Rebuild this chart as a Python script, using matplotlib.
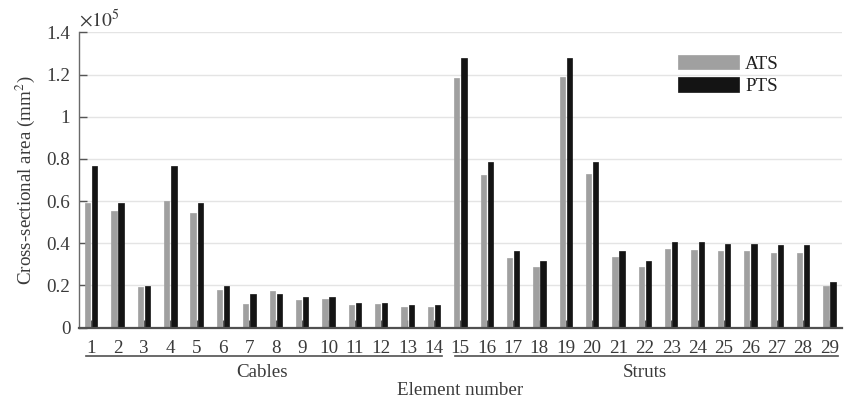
import matplotlib
matplotlib.use("Agg")
import matplotlib.pyplot as plt
from matplotlib.ticker import FuncFormatter
import numpy as np

plt.rcParams["font.family"] = ["Liberation Serif", "DejaVu Serif"]
plt.rcParams["mathtext.fontset"] = "stix"

# Cross-sectional areas (mm^2) for each element
elements = list(range(1, 30))
ats = [59000, 55300, 19150, 60000, 54200, 17900, 11100, 17400, 13100, 13600,
       10800, 11200, 9800, 9800,
       118400, 72400, 33000, 28800, 118800, 72900, 33500, 28800, 37300, 36800,
       36400, 36400, 35600, 35600, 19800]
pts = [76800, 59300, 19900, 76800, 59300, 19900, 16000, 16000, 14400, 14400,
       11800, 11800, 10900, 10900,
       127700, 78400, 36200, 31800, 127700, 78400, 36200, 31800, 40500, 40500,
       39800, 39800, 39000, 39000, 21800]
groups = [("Cables", 1, 14), ("Struts", 15, 29)]
series_names = ["ATS", "PTS"]
yticks = [0, 20000, 40000, 60000, 80000, 100000, 120000, 140000]

fs = 13.7
text_color = "#3a3a3a"
fig = plt.figure(figsize=(8.46, 4.04), dpi=100)
ax = fig.add_axes([0.093, 0.189, 0.902, 0.731])

x = np.array(elements, dtype=float)
bw = 0.2
ax.bar(x - 0.13, ats, width=bw, color="#a0a0a0", edgecolor="#a0a0a0",
       linewidth=0.5, label=series_names[0], zorder=3)
ax.bar(x + 0.14, pts, width=bw, color="#141414", edgecolor="#141414",
       linewidth=0.5, label=series_names[1], zorder=3)

ax.set_xlim(0.53, 29.47)
ax.set_ylim(0, 140000)
ax.set_xticks(elements)
ax.set_xticklabels([str(e) for e in elements])
ax.set_yticks(yticks)
ax.yaxis.set_major_formatter(FuncFormatter(lambda v, p: f"{v / 1e5:g}"))

ax.grid(axis="y", color="#e4e4e4", linewidth=1.0, zorder=0)
ax.set_axisbelow(True)
for s in ("top", "right"):
    ax.spines[s].set_visible(False)
ax.spines["left"].set_color("#6a6a6a")
ax.spines["left"].set_linewidth(1.0)
ax.spines["bottom"].set_color("#505050")
ax.spines["bottom"].set_linewidth(1.6)
ax.spines["bottom"].set_zorder(4)

ax.tick_params(axis="both", direction="in", length=5.5, width=1.0,
               color="#555555", labelsize=fs, labelcolor=text_color)
ax.tick_params(axis="x", pad=9)
ax.tick_params(axis="y", pad=6)

ax.text(0.0, 1.0, r"$\times10^5$", transform=ax.transAxes, ha="left",
        va="bottom", fontsize=fs + 0.5, color=text_color)

ax.set_ylabel(r"Cross-sectional area (mm$^2$)", fontsize=fs, color=text_color,
              labelpad=7)

# Group brackets beneath the element numbers
trans = ax.get_xaxis_transform()
for name, first, last in groups:
    ax.plot([first - 0.2, last + 0.32], [-0.096, -0.096], transform=trans,
            color="#505050", linewidth=1.2, clip_on=False)
    ax.text((first + last) / 2, -0.151, name, transform=trans, ha="center",
            va="center", fontsize=fs, color=text_color)
ax.text(0.5, -0.214, "Element number", transform=ax.transAxes, ha="center",
        va="center", fontsize=fs, color=text_color)

leg = ax.legend(loc="upper left", bbox_to_anchor=(0.776, 0.95), frameon=False,
                fontsize=fs, handlelength=3.2, handleheight=0.8,
                handletextpad=0.3, labelspacing=0.25, borderaxespad=0)
for t in leg.get_texts():
    t.set_color("#202020")

fig.savefig("out.png", dpi=100)
